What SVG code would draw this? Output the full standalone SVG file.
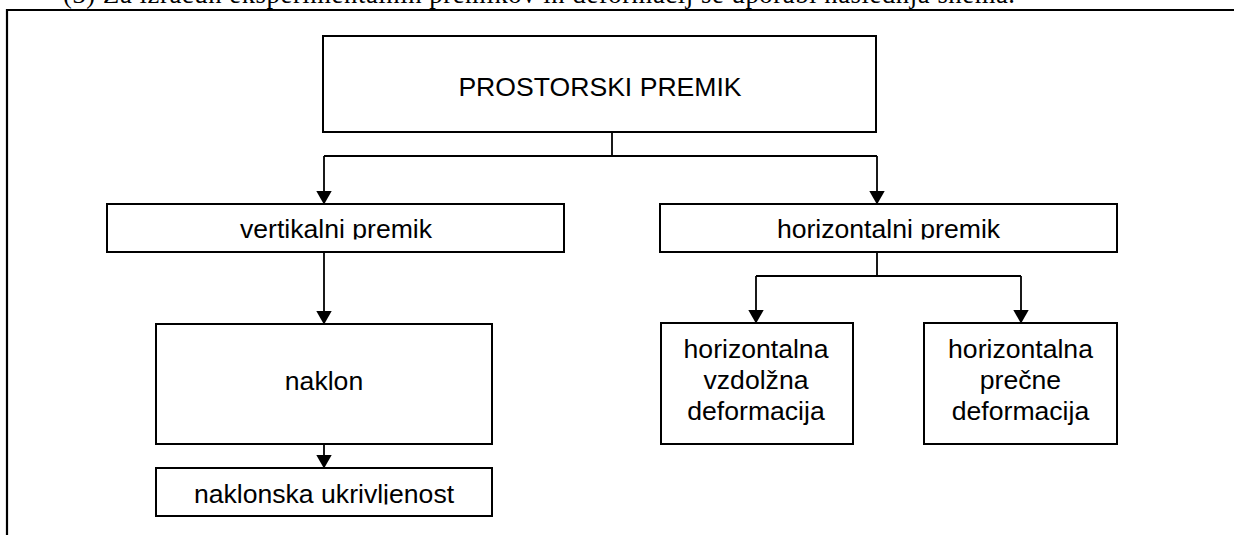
<svg xmlns="http://www.w3.org/2000/svg" width="1234" height="535" viewBox="0 0 1234 535">
<style>
.box{fill:#fff;stroke:#000;stroke-width:2}
.t{font-family:"Liberation Sans",Arial,sans-serif;font-size:26.6px;fill:#000;text-anchor:middle}
.con{fill:none;stroke:#000;stroke-width:1.8}
.frame{fill:none;stroke:#000;stroke-width:2.2}
</style>
<defs>
<marker id="ah" markerUnits="userSpaceOnUse" markerWidth="14" markerHeight="16" viewBox="0 0 14 16" refX="13.5" refY="8" orient="auto">
<path d="M0,0 L14,8 L0,16 z" fill="#000"/>
</marker>
<clipPath id="c1"><rect x="107" y="204" width="457" height="35.5"/></clipPath>
<clipPath id="c2"><rect x="660" y="204" width="457" height="35.5"/></clipPath>
<clipPath id="c3"><rect x="156" y="468" width="336" height="36.5"/></clipPath>
</defs>
<rect width="1234" height="535" fill="#fff"/>
<text x="63" y="3" font-family="'Liberation Serif','Times New Roman',serif" font-size="26.6" textLength="952" lengthAdjust="spacing">(3) Za izračun eksperimentalnih premikov in deformacij se uporabi naslednja shema.</text>
<path class="frame" d="M7,535 V10 H1234"/>
<g id="connectors">
<path class="con" d="M612,132 V156"/>
<path class="con" d="M612,156 H324"/>
<path class="con" d="M612,156 H877"/>
<path class="con" d="M324,156 V204" marker-end="url(#ah)"/>
<path class="con" d="M877,156 V204" marker-end="url(#ah)"/>
<path class="con" d="M324,252 V324" marker-end="url(#ah)"/>
<path class="con" d="M324,444 V468" marker-end="url(#ah)"/>
<path class="con" d="M877,252 V276 M756,276 H1021"/>
<path class="con" d="M756,276 V323" marker-end="url(#ah)"/>
<path class="con" d="M1021,276 V323" marker-end="url(#ah)"/>
</g>
<g id="prostorski">
<rect class="box" x="323" y="36" width="553" height="96"/>
<text class="t" x="600" y="96">PROSTORSKI PREMIK</text>
</g>
<g id="vertikalni">
<rect class="box" x="107" y="204" width="457" height="48"/>
<text class="t" x="336" y="238" clip-path="url(#c1)">vertikalni premik</text>
</g>
<g id="horizontalni">
<rect class="box" x="660" y="204" width="457" height="48"/>
<text class="t" x="888.5" y="238" clip-path="url(#c2)">horizontalni premik</text>
</g>
<g id="naklon">
<rect class="box" x="156" y="324" width="336" height="120"/>
<text class="t" x="324" y="390">naklon</text>
</g>
<g id="naklonska">
<rect class="box" x="156" y="468" width="336" height="48"/>
<text class="t" x="324" y="503" clip-path="url(#c3)">naklonska ukrivljenost</text>
</g>
<g id="vzdolzna">
<rect class="box" x="661" y="323" width="192" height="121"/>
<text class="t" x="756" y="358">horizontalna</text>
<text class="t" x="756" y="389">vzdolžna</text>
<text class="t" x="756" y="420">deformacija</text>
</g>
<g id="precne">
<rect class="box" x="924" y="323" width="193" height="121"/>
<text class="t" x="1020.5" y="358">horizontalna</text>
<text class="t" x="1020.5" y="389">prečne</text>
<text class="t" x="1020.5" y="420">deformacija</text>
</g>
</svg>
